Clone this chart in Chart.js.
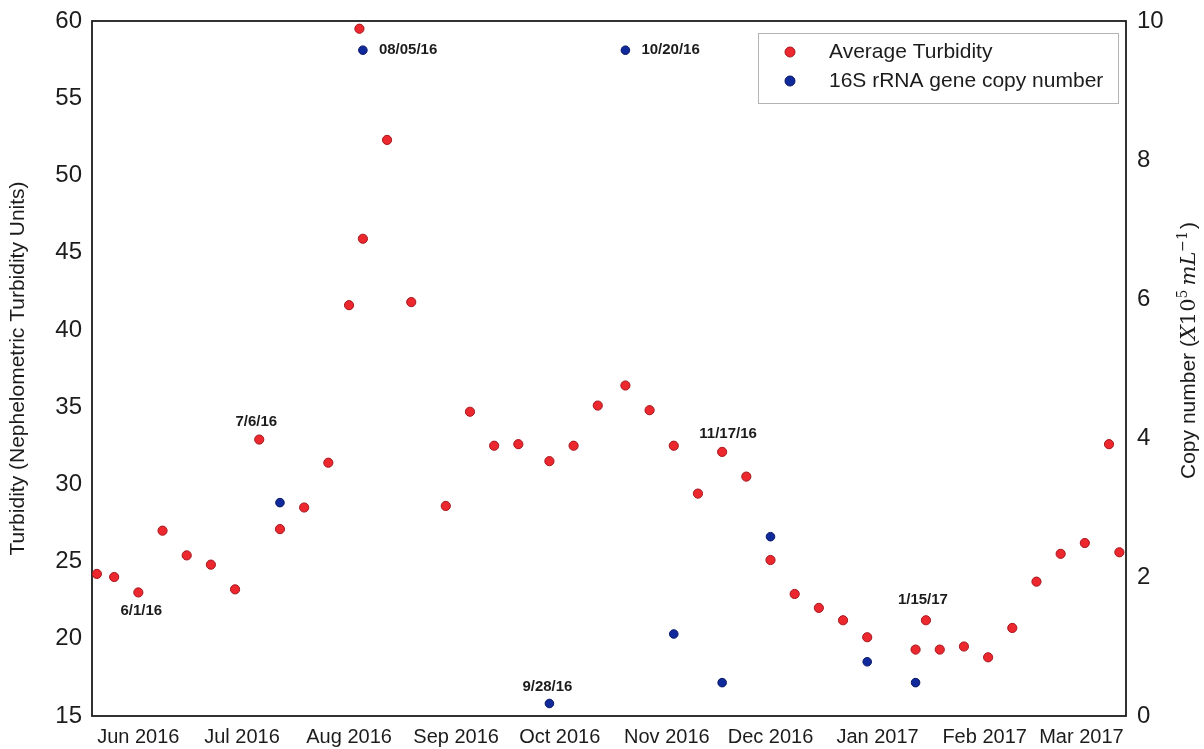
<!DOCTYPE html>
<html>
<head>
<meta charset="utf-8">
<script src="https://cdn.jsdelivr.net/npm/chart.js@4"></script>
<style>
  html, body { margin: 0; padding: 0; background: #fff; }
  canvas { display: block; }
</style>
</head>
<body>
<canvas id="chart" width="1204" height="749"></canvas>
<script>
// Month ticks on the date axis
const monthStarts = ['2016-06-01','2016-07-01','2016-08-01','2016-09-01','2016-10-01',
                     '2016-11-01','2016-12-01','2017-01-01','2017-02-01','2017-03-01'];
const monthLabels = ['Jun 2016','Jul 2016','Aug 2016','Sep 2016','Oct 2016',
                     'Nov 2016','Dec 2016','Jan 2017','Feb 2017','Mar 2017'];

// Average turbidity (NTU)
const turbidityDates = [
  '2016-05-20','2016-05-25','2016-06-01','2016-06-08','2016-06-15','2016-06-22','2016-06-29',
  '2016-07-06','2016-07-12','2016-07-19','2016-07-26','2016-08-01','2016-08-04','2016-08-05',
  '2016-08-12','2016-08-19','2016-08-29','2016-09-05','2016-09-12','2016-09-19','2016-09-28',
  '2016-10-05','2016-10-12','2016-10-20','2016-10-27','2016-11-03','2016-11-10','2016-11-17',
  '2016-11-24','2016-12-01','2016-12-08','2016-12-15','2016-12-22','2016-12-29','2017-01-12',
  '2017-01-15','2017-01-19','2017-01-26','2017-02-02','2017-02-09','2017-02-16','2017-02-23',
  '2017-03-02','2017-03-09','2017-03-12'
];
const turbidityValues = [
  24.2, 24.0, 23.0, 27.0, 25.4, 24.8, 23.2,
  32.9, 27.1, 28.5, 31.4, 41.6, 59.5, 45.9,
  52.3, 41.8, 28.6, 34.7, 32.5, 32.6, 31.5,
  32.5, 35.1, 36.4, 34.8, 32.5, 29.4, 32.1,
  30.5, 25.1, 22.9, 22.0, 21.2, 20.1, 19.3,
  21.2, 19.3, 19.5, 18.8, 20.7, 23.7, 25.5,
  26.2, 32.6, 25.6
];

// 16S rRNA gene copy number (x10^5 per mL)
const copyDates = ['2016-07-12','2016-08-05','2016-09-28','2016-10-20','2016-11-03',
                   '2016-11-17','2016-12-01','2016-12-29','2017-01-12'];
const copyValues = [3.07, 9.58, 0.18, 9.58, 1.18, 0.48, 2.58, 0.78, 0.48];

// Sampling-date callouts: date, text, series index (0 = turbidity, 1 = copy number)
const noteDates  = ['2016-06-01','2016-07-06','2016-08-05','2016-09-28','2016-10-20','2016-11-17','2017-01-15'];
const noteLabels = ['6/1/16','7/6/16','08/05/16','9/28/16','10/20/16','11/17/16','1/15/17'];
const noteSeries = [0, 0, 1, 1, 1, 0, 0];

// Visible date range
const axisStart = '2016-05-18T14:00:00Z';
const axisEnd   = '2017-03-13T22:00:00Z';

const DAY_MS = 86400000;
const dayOf = s => Date.parse(s.length === 10 ? s + 'T00:00:00Z' : s) / DAY_MS;
const toPoints = (dates, vals) => dates.map((d, i) => ({ x: dayOf(d), y: vals[i] }));

const FONT = "'Liberation Sans', Arial, Helvetica, sans-serif";
const INK = '#1c1c1c';

// Box around the plotting area
const framePlugin = {
  id: 'frame',
  beforeDatasetsDraw(chart, args, o) {
    const { ctx, chartArea: a } = chart;
    ctx.save();
    ctx.strokeStyle = o.color;
    ctx.lineWidth = o.width;
    ctx.strokeRect(a.left, a.top, a.right - a.left, a.bottom - a.top);
    ctx.restore();
  }
};

// Date callouts next to selected points
const notePlugin = {
  id: 'notes',
  afterDatasetsDraw(chart, args, o) {
    const ctx = chart.ctx;
    ctx.save();
    ctx.font = o.font;
    ctx.fillStyle = o.color;
    ctx.textBaseline = 'middle';
    noteLabels.forEach((txt, i) => {
      const ds = chart.data.datasets[noteSeries[i]];
      const dx = dayOf(noteDates[i]);
      const pt = ds.data.find(p => p.x === dx);
      if (!pt) return;
      const px = chart.scales.x.getPixelForValue(pt.x);
      const py = chart.scales[ds.yAxisID].getPixelForValue(pt.y);
      const off = o.offsets[i];
      ctx.textAlign = off[2];
      ctx.fillText(txt, px + off[0], py + off[1]);
    });
    ctx.restore();
  }
};

// Legend drawn as a framed box inside the plot
const boxLegend = {
  id: 'boxLegend',
  afterDraw(chart, args, o) {
    const { ctx, chartArea: a } = chart;
    const right = a.right - o.marginRight;
    const top = a.top + o.marginTop;
    const left = right - o.width;
    ctx.save();
    ctx.strokeStyle = o.borderColor;
    ctx.lineWidth = 1;
    ctx.strokeRect(Math.round(left) + 0.5, Math.round(top) + 0.5, o.width, o.height);
    ctx.font = o.font;
    ctx.textBaseline = 'middle';
    ctx.textAlign = 'left';
    chart.data.datasets.forEach((ds, i) => {
      const y = top + o.firstRow + i * o.rowGap;
      ctx.beginPath();
      ctx.arc(left + o.dotX, y, o.dotR, 0, Math.PI * 2);
      ctx.fillStyle = ds.backgroundColor;
      ctx.fill();
      ctx.strokeStyle = ds.borderColor;
      ctx.lineWidth = 1;
      ctx.stroke();
      ctx.fillStyle = o.color;
      ctx.fillText(ds.label, left + o.textX, y);
    });
    ctx.restore();
  }
};

// Right axis title with italic symbols and superscripts
const rightTitle = {
  id: 'rightTitle',
  afterDraw(chart, args, o) {
    const { ctx, chartArea: a } = chart;
    const cx = chart.width - o.fromRight;
    const cy = (a.top + a.bottom) / 2 + o.shiftY;
    ctx.save();
    ctx.translate(cx, cy);
    ctx.rotate(-Math.PI / 2);
    ctx.fillStyle = o.color;
    ctx.textBaseline = 'alphabetic';
    ctx.textAlign = 'left';
    let total = 0;
    o.segments.forEach(s => { ctx.font = s.font; total += ctx.measureText(s.text).width + (s.gap || 0); });
    let x = -total / 2;
    const base = o.baseline;
    o.segments.forEach(s => {
      ctx.font = s.font;
      ctx.fillText(s.text, x, base - (s.rise || 0));
      x += ctx.measureText(s.text).width + (s.gap || 0);
    });
    ctx.restore();
  }
};

// Vertical axes: let the labels overhang instead of shrinking the plot
const noOverhang = s => { s.paddingTop = 0; s.paddingBottom = 0; };

new Chart(document.getElementById('chart'), {
  type: 'scatter',
  data: {
    datasets: [
      {
        label: 'Average Turbidity',
        data: toPoints(turbidityDates, turbidityValues),
        yAxisID: 'y',
        backgroundColor: 'rgb(236, 40, 46)',
        borderColor: 'rgb(165, 22, 30)',
        borderWidth: 1,
        pointRadius: 4.6,
        pointHoverRadius: 4.6
      },
      {
        label: '16S rRNA gene copy number',
        data: toPoints(copyDates, copyValues),
        yAxisID: 'y2',
        backgroundColor: 'rgb(16, 42, 156)',
        borderColor: 'rgb(8, 22, 100)',
        borderWidth: 1,
        pointRadius: 4.3,
        pointHoverRadius: 4.3
      }
    ]
  },
  options: {
    responsive: false,
    animation: false,
    devicePixelRatio: 1,
    layout: { padding: { top: 21, left: 0, right: 0, bottom: 0 } },
    plugins: {
      legend: { display: false },
      tooltip: { enabled: false },
      frame: { color: INK, width: 1.8 },
      notes: {
        font: 'bold 15px ' + FONT,
        color: INK,
        offsets: [
          [3, 18, 'center'],
          [-3, -18, 'center'],
          [16, 0, 'left'],
          [-2, -17, 'center'],
          [16, 0, 'left'],
          [6, -18, 'center'],
          [-3, -20, 'center']
        ]
      },
      boxLegend: {
        marginRight: 8, marginTop: 12, width: 360, height: 70,
        firstRow: 19, rowGap: 29, dotX: 32, dotR: 5, textX: 71,
        font: '21px ' + FONT, color: INK, borderColor: '#b4b4b4'
      },
      rightTitle: {
        fromRight: 16, shiftY: -18, baseline: 7, color: INK,
        segments: [
          { text: 'Copy number (', font: '21px ' + FONT },
          { text: 'X', font: "italic 21px 'DejaVu Serif', 'Liberation Serif', serif" },
          { text: '10', font: "21px 'DejaVu Serif', 'Liberation Serif', serif" },
          { text: '5', font: "14px 'DejaVu Serif', 'Liberation Serif', serif", rise: 8, gap: 4 },
          { text: 'mL', font: "italic 21px 'DejaVu Serif', 'Liberation Serif', serif" },
          { text: '\u22121', font: "14px 'DejaVu Serif', 'Liberation Serif', serif", rise: 8, gap: 2 },
          { text: ')', font: '21px ' + FONT }
        ]
      }
    },
    scales: {
      x: {
        type: 'linear',
        min: dayOf(axisStart),
        max: dayOf(axisEnd),
        grid: { display: false, drawTicks: false },
        border: { display: false },
        afterBuildTicks: s => { s.ticks = monthStarts.map(d => ({ value: dayOf(d) })); },
        afterFit: s => { s.height = 33; s.paddingLeft = 0; s.paddingRight = 0; },
        ticks: {
          autoSkip: false,
          maxRotation: 0,
          padding: 9,
          color: INK,
          font: { family: FONT, size: 20 },
          callback: (v, i) => monthLabels[i]
        }
      },
      y: {
        position: 'left',
        min: 15,
        max: 60,
        grid: { display: false, drawTicks: false },
        border: { display: false },
        afterFit: s => { s.width = 92; noOverhang(s); },
        ticks: { stepSize: 5, padding: 10, color: INK, font: { family: FONT, size: 24 } },
        title: {
          display: true,
          text: 'Turbidity (Nephelometric Turbidity Units)',
          color: INK,
          font: { family: FONT, size: 21 },
          padding: { top: 6, bottom: 0 }
        }
      },
      y2: {
        position: 'right',
        min: 0,
        max: 10,
        grid: { display: false, drawTicks: false },
        border: { display: false },
        afterFit: s => { s.width = 78; noOverhang(s); },
        ticks: { stepSize: 2, padding: 11, color: INK, font: { family: FONT, size: 24 } }
      }
    }
  },
  plugins: [framePlugin, notePlugin, boxLegend, rightTitle]
});
</script>
</body>
</html>
